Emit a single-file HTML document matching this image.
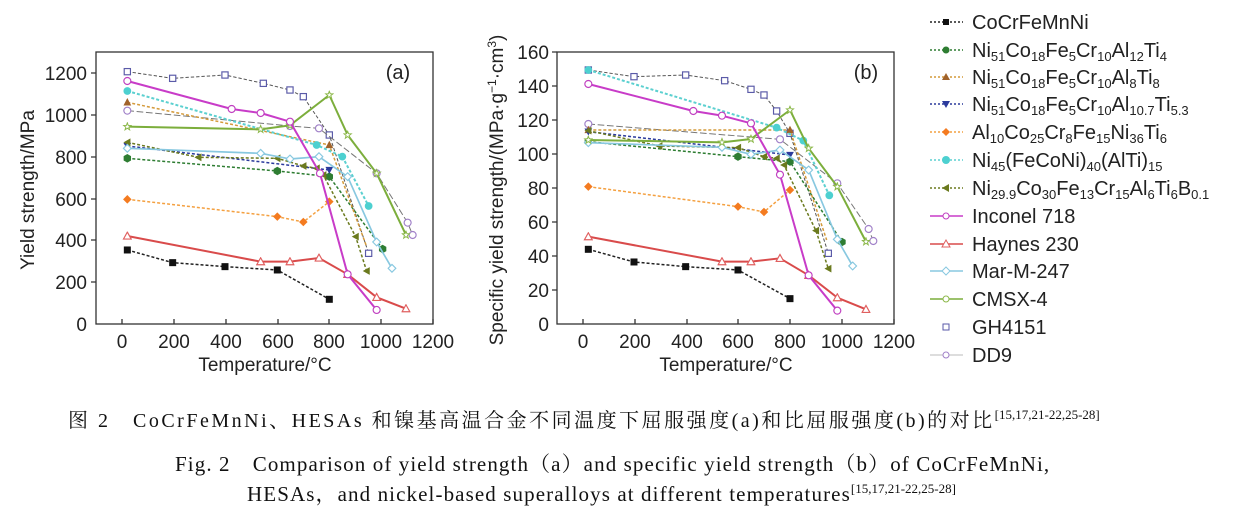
<!DOCTYPE html>
<html><head><meta charset="utf-8"><style>
body{margin:0;width:1236px;height:513px;background:#fff;overflow:hidden;position:relative}
svg{position:absolute;left:0;top:0}
.cap{position:absolute;font-family:"Liberation Serif","Noto Serif CJK SC",serif;font-size:21px;color:#111;white-space:nowrap;letter-spacing:1.1px}
.cap sup{font-size:13px;vertical-align:8px;letter-spacing:0}
</style></head><body>
<svg width="1236" height="513" viewBox="0 0 1236 513" font-family="Liberation Sans, sans-serif">
<defs>
<marker id="sqK" markerUnits="userSpaceOnUse" viewBox="-12 -12 24 24" markerWidth="28" markerHeight="28"><rect x="-9" y="-9" width="18" height="18" fill="#111"/></marker>
<marker id="hexG" markerUnits="userSpaceOnUse" viewBox="-12 -12 24 24" markerWidth="28" markerHeight="28"><polygon points="0,-11 9.5,-5.5 9.5,5.5 0,11 -9.5,5.5 -9.5,-5.5" fill="#2e7d32"/></marker>
<marker id="triBr" markerUnits="userSpaceOnUse" viewBox="-12 -12 24 24" markerWidth="28" markerHeight="28"><polygon points="0,-11 10,8 -10,8" fill="#a0622a"/></marker>
<marker id="triNv" markerUnits="userSpaceOnUse" viewBox="-12 -12 24 24" markerWidth="28" markerHeight="28"><polygon points="0,10 10,-8 -10,-8" fill="#2b3a9c"/></marker>
<marker id="diaO" markerUnits="userSpaceOnUse" viewBox="-12 -12 24 24" markerWidth="28" markerHeight="28"><polygon points="0,-11 11,0 0,11 -11,0" fill="#f47b20"/></marker>
<marker id="cirC" markerUnits="userSpaceOnUse" viewBox="-12 -12 24 24" markerWidth="28" markerHeight="28"><circle r="10" fill="#4dd0d0"/></marker>
<marker id="triOl" markerUnits="userSpaceOnUse" viewBox="-12 -12 24 24" markerWidth="28" markerHeight="28"><polygon points="-10,0 8,-10 8,10" fill="#6b7a1e"/></marker>
<marker id="cirM" markerUnits="userSpaceOnUse" viewBox="-12 -12 24 24" markerWidth="28" markerHeight="28"><circle r="9" fill="#fff" stroke="#c040c0" stroke-width="3"/></marker>
<marker id="triR" markerUnits="userSpaceOnUse" viewBox="-12 -12 24 24" markerWidth="28" markerHeight="28"><polygon points="0,-10 10,8 -10,8" fill="#fff" stroke="#e06060" stroke-width="3"/></marker>
<marker id="diaLB" markerUnits="userSpaceOnUse" viewBox="-12 -12 24 24" markerWidth="28" markerHeight="28"><polygon points="0,-10 10,0 0,10 -10,0" fill="#fff" stroke="#88c8e0" stroke-width="3"/></marker>
<marker id="starG" markerUnits="userSpaceOnUse" viewBox="-12 -12 24 24" markerWidth="28" markerHeight="28"><polygon points="0,-10 2.4,-3.3 9.5,-3.1 3.9,1.3 5.9,8.1 0,4 -5.9,8.1 -3.9,1.3 -9.5,-3.1 -2.4,-3.3" fill="#fff" stroke="#8cb84a" stroke-width="2.5"/></marker>
<marker id="sqP" markerUnits="userSpaceOnUse" viewBox="-12 -12 24 24" markerWidth="28" markerHeight="28"><rect x="-8" y="-8" width="16" height="16" fill="#fff" stroke="#5a5aa8" stroke-width="3"/></marker>
<marker id="cirL" markerUnits="userSpaceOnUse" viewBox="-12 -12 24 24" markerWidth="28" markerHeight="28"><circle r="9" fill="#fff" stroke="#a080c8" stroke-width="3"/></marker>
</defs>
<g fill="none" stroke-linejoin="round">
<g transform="translate(90,40) scale(0.3333)" stroke-width="4.5">
<polyline points="112,95 248,115 405,105 520,130 600,150 640,170 718,285 836,640" stroke="#555" stroke-dasharray="10 6" stroke-width="3" marker-start="url(#sqP)" marker-mid="url(#sqP)" marker-end="url(#sqP)"/>
<polyline points="112,212 600,258 687,265 860,400 953,548 968,585" stroke="#777" stroke-dasharray="20 8" stroke-width="3" marker-start="url(#cirL)" marker-mid="url(#cirL)" marker-end="url(#cirL)"/>
<polyline points="112,630 248,668 405,680 562,690 718,778" stroke="#222" stroke-dasharray="9 6" marker-start="url(#sqK)" marker-mid="url(#sqK)" marker-end="url(#sqK)"/>
<polyline points="112,355 562,393 718,410 878,627" stroke="#2e7d32" stroke-dasharray="9 6" marker-start="url(#hexG)" marker-mid="url(#hexG)" marker-end="url(#hexG)"/>
<polyline points="112,187 718,315 830,620" stroke="#d49a3a" stroke-dasharray="9 6" marker-start="url(#triBr)" marker-mid="url(#triBr)"/>
<polyline points="112,318 718,390" stroke="#2b3a9c" stroke-dasharray="9 6" marker-start="url(#triNv)" marker-end="url(#triNv)"/>
<polyline points="112,478 562,530 640,546 718,485" stroke="#f4a040" stroke-dasharray="9 6" marker-start="url(#diaO)" marker-mid="url(#diaO)" marker-end="url(#diaO)"/>
<polyline points="112,153 680,315 757,350 836,498" stroke="#5cd0d0" stroke-dasharray="9 6" stroke-width="6" marker-start="url(#cirC)" marker-mid="url(#cirC)" marker-end="url(#cirC)"/>
<polyline points="112,307 325,352 562,355 640,378 680,385 700,405 797,590 830,693" stroke="#6b7a1e" stroke-dasharray="9 6" marker-start="url(#triOl)" marker-mid="url(#triOl)" marker-end="url(#triOl)"/>
<polyline points="112,325 512,340 600,357 687,350 773,410 860,606 906,685" stroke="#88c8e0" stroke-width="5" marker-start="url(#diaLB)" marker-mid="url(#diaLB)" marker-end="url(#diaLB)"/>
<polyline points="112,260 512,268 600,256 718,165 773,285 860,400 948,585" stroke="#7cae3c" stroke-width="6" marker-start="url(#starG)" marker-mid="url(#starG)" marker-end="url(#starG)"/>
<polyline points="112,588 512,665 600,665 687,654 773,703 860,772 948,806" stroke="#d94b4b" stroke-width="6" marker-start="url(#triR)" marker-mid="url(#triR)" marker-end="url(#triR)"/>
<polyline points="112,123 425,207 512,219 600,245 690,400 773,703 860,810" stroke="#c83cc8" stroke-width="6" marker-start="url(#cirM)" marker-mid="url(#cirM)" marker-end="url(#cirM)"/>
</g>
<g transform="translate(560,40) scale(0.3333)" stroke-width="4.5">
<polyline points="85,90 222,110 377,105 494,122 573,148 612,165 650,213 690,280 805,640" stroke="#555" stroke-dasharray="10 6" stroke-width="3" marker-start="url(#sqP)" marker-mid="url(#sqP)" marker-end="url(#sqP)"/>
<polyline points="85,252 660,298 832,430 926,567 940,603" stroke="#777" stroke-dasharray="20 8" stroke-width="3" marker-start="url(#cirL)" marker-mid="url(#cirL)" marker-end="url(#cirL)"/>
<polyline points="85,628 222,666 377,680 534,690 690,776" stroke="#222" stroke-dasharray="9 6" marker-start="url(#sqK)" marker-mid="url(#sqK)" marker-end="url(#sqK)"/>
<polyline points="85,305 534,350 690,365 846,606" stroke="#2e7d32" stroke-dasharray="9 6" marker-start="url(#hexG)" marker-mid="url(#hexG)" marker-end="url(#hexG)"/>
<polyline points="85,270 690,270 800,600" stroke="#d49a3a" stroke-dasharray="9 6" marker-start="url(#triBr)" marker-mid="url(#triBr)"/>
<polyline points="85,275 690,345" stroke="#2b3a9c" stroke-dasharray="9 6" marker-start="url(#triNv)" marker-end="url(#triNv)"/>
<polyline points="85,440 534,500 612,516 690,450" stroke="#f4a040" stroke-dasharray="9 6" marker-start="url(#diaO)" marker-mid="url(#diaO)" marker-end="url(#diaO)"/>
<polyline points="85,90 650,263 730,302 808,466" stroke="#5cd0d0" stroke-dasharray="9 6" stroke-width="6" marker-start="url(#cirC)" marker-mid="url(#cirC)" marker-end="url(#cirC)"/>
<polyline points="85,272 298,318 534,323 612,350 650,355 672,375 768,572 805,686" stroke="#6b7a1e" stroke-dasharray="9 6" marker-start="url(#triOl)" marker-mid="url(#triOl)" marker-end="url(#triOl)"/>
<polyline points="85,308 486,322 573,343 660,330 746,390 832,598 878,678" stroke="#88c8e0" stroke-width="5" marker-start="url(#diaLB)" marker-mid="url(#diaLB)" marker-end="url(#diaLB)"/>
<polyline points="85,300 486,307 573,297 690,210 746,325 832,440 918,605" stroke="#7cae3c" stroke-width="6" marker-start="url(#starG)" marker-mid="url(#starG)" marker-end="url(#starG)"/>
<polyline points="85,590 486,665 573,665 660,655 746,706 832,773 918,808" stroke="#d94b4b" stroke-width="6" marker-start="url(#triR)" marker-mid="url(#triR)" marker-end="url(#triR)"/>
<polyline points="85,132 400,213 486,227 573,250 660,404 746,706 832,812" stroke="#c83cc8" stroke-width="6" marker-start="url(#cirM)" marker-mid="url(#cirM)" marker-end="url(#cirM)"/>
</g>
</g>
<g stroke="#333" stroke-width="1.3" fill="none">
<rect x="96" y="52" width="337" height="272"/>
<rect x="557" y="52" width="337" height="272"/>
<path d="M91 73H96M91 115H96M91 157H96M91 199H96M91 240H96M91 282H96M122 324V319M174 324V319M226 324V319M278 324V319M329 324V319M381 324V319M433 324V319"/>
<path d="M552 52H557M552 86H557M552 120H557M552 154H557M552 188H557M552 222H557M552 256H557M552 290H557M583 324V319M635 324V319M687 324V319M738 324V319M790 324V319M842 324V319M894 324V319"/>
</g>
<g font-size="19" fill="#222" text-anchor="end">
<text x="87" y="80">1200</text><text x="87" y="122">1000</text><text x="87" y="164">800</text><text x="87" y="206">600</text><text x="87" y="247">400</text><text x="87" y="289">200</text><text x="87" y="331">0</text>
<text x="549" y="59">160</text><text x="549" y="93">140</text><text x="549" y="127">120</text><text x="549" y="161">100</text><text x="549" y="195">80</text><text x="549" y="229">60</text><text x="549" y="263">40</text><text x="549" y="297">20</text><text x="549" y="331">0</text>
</g>
<g font-size="19" fill="#222" text-anchor="middle">
<text x="122" y="348">0</text><text x="174" y="348">200</text><text x="226" y="348">400</text><text x="278" y="348">600</text><text x="329" y="348">800</text><text x="381" y="348">1000</text><text x="433" y="348">1200</text>
<text x="583" y="348">0</text><text x="635" y="348">200</text><text x="687" y="348">400</text><text x="738" y="348">600</text><text x="790" y="348">800</text><text x="842" y="348">1000</text><text x="894" y="348">1200</text>
<text x="265" y="371">Temperature/°C</text><text x="726" y="371">Temperature/°C</text>
<text transform="translate(34,190) rotate(-90)">Yield strength/MPa</text>
<text transform="translate(503,190) rotate(-90)">Specific yield strength/(MPa·g<tspan font-size="12" dy="-7">−1</tspan><tspan dy="7">·cm</tspan><tspan font-size="12" dy="-7">3</tspan><tspan dy="7">)</tspan></text>
<text x="398" y="79" font-size="20">(a)</text><text x="866" y="79" font-size="20">(b)</text>
</g>
<g stroke-width="1.5" fill="none">
<line x1="930" y1="22" x2="963" y2="22" stroke="#222" stroke-dasharray="2 2"/>
<line x1="930" y1="50" x2="963" y2="50" stroke="#2e7d32" stroke-dasharray="2 2"/>
<line x1="930" y1="77" x2="963" y2="77" stroke="#d49a3a" stroke-dasharray="2 2"/>
<line x1="930" y1="104" x2="963" y2="104" stroke="#2b3a9c" stroke-dasharray="2 2"/>
<line x1="930" y1="132" x2="963" y2="132" stroke="#f4a040" stroke-dasharray="2 2"/>
<line x1="930" y1="160" x2="963" y2="160" stroke="#5cd0d0" stroke-dasharray="2 2"/>
<line x1="930" y1="188" x2="963" y2="188" stroke="#6b7a1e" stroke-dasharray="2 2"/>
<line x1="930" y1="216" x2="963" y2="216" stroke="#c83cc8"/>
<line x1="930" y1="244" x2="963" y2="244" stroke="#d94b4b"/>
<line x1="930" y1="271" x2="963" y2="271" stroke="#88c8e0"/>
<line x1="930" y1="299" x2="963" y2="299" stroke="#7cae3c"/>
<line x1="930" y1="355" x2="963" y2="355" stroke="#bbb" stroke-width="1"/>
</g>
<g>
<rect x="943" y="19" width="6" height="6" fill="#111"/>
<circle cx="946" cy="50" r="3.5" fill="#2e7d32"/>
<polygon points="946,73 950,80 942,80" fill="#a0622a"/>
<polygon points="946,108 950,101 942,101" fill="#2b3a9c"/>
<polygon points="946,128 950,132 946,136 942,132" fill="#f47b20"/>
<circle cx="946" cy="160" r="4" fill="#4dd0d0"/>
<polygon points="942,188 949,184 949,192" fill="#6b7a1e"/>
<circle cx="946" cy="216" r="3" fill="#fff" stroke="#c040c0"/>
<polygon points="946,240 950,247 942,247" fill="#fff" stroke="#e06060"/>
<polygon points="946,267 950,271 946,275 942,271" fill="#fff" stroke="#88c8e0"/>
<circle cx="946" cy="299" r="3" fill="#fff" stroke="#8cb84a"/>
<rect x="943" y="324" width="6" height="6" fill="#fff" stroke="#5a5aa8"/>
<circle cx="946" cy="355" r="3" fill="#fff" stroke="#a080c8"/>
</g>
<g font-size="20" fill="#222">
<text x="972" y="29">CoCrFeMnNi</text>
<text x="972" y="57">Ni<tspan font-size="13" dy="4">51</tspan><tspan dy="-4">Co</tspan><tspan font-size="13" dy="4">18</tspan><tspan dy="-4">Fe</tspan><tspan font-size="13" dy="4">5</tspan><tspan dy="-4">Cr</tspan><tspan font-size="13" dy="4">10</tspan><tspan dy="-4">Al</tspan><tspan font-size="13" dy="4">12</tspan><tspan dy="-4">Ti</tspan><tspan font-size="13" dy="4">4</tspan></text>
<text x="972" y="84">Ni<tspan font-size="13" dy="4">51</tspan><tspan dy="-4">Co</tspan><tspan font-size="13" dy="4">18</tspan><tspan dy="-4">Fe</tspan><tspan font-size="13" dy="4">5</tspan><tspan dy="-4">Cr</tspan><tspan font-size="13" dy="4">10</tspan><tspan dy="-4">Al</tspan><tspan font-size="13" dy="4">8</tspan><tspan dy="-4">Ti</tspan><tspan font-size="13" dy="4">8</tspan></text>
<text x="972" y="111">Ni<tspan font-size="13" dy="4">51</tspan><tspan dy="-4">Co</tspan><tspan font-size="13" dy="4">18</tspan><tspan dy="-4">Fe</tspan><tspan font-size="13" dy="4">5</tspan><tspan dy="-4">Cr</tspan><tspan font-size="13" dy="4">10</tspan><tspan dy="-4">Al</tspan><tspan font-size="13" dy="4">10.7</tspan><tspan dy="-4">Ti</tspan><tspan font-size="13" dy="4">5.3</tspan></text>
<text x="972" y="139">Al<tspan font-size="13" dy="4">10</tspan><tspan dy="-4">Co</tspan><tspan font-size="13" dy="4">25</tspan><tspan dy="-4">Cr</tspan><tspan font-size="13" dy="4">8</tspan><tspan dy="-4">Fe</tspan><tspan font-size="13" dy="4">15</tspan><tspan dy="-4">Ni</tspan><tspan font-size="13" dy="4">36</tspan><tspan dy="-4">Ti</tspan><tspan font-size="13" dy="4">6</tspan></text>
<text x="972" y="167">Ni<tspan font-size="13" dy="4">45</tspan><tspan dy="-4">(FeCoNi)</tspan><tspan font-size="13" dy="4">40</tspan><tspan dy="-4">(AlTi)</tspan><tspan font-size="13" dy="4">15</tspan></text>
<text x="972" y="195">Ni<tspan font-size="13" dy="4">29.9</tspan><tspan dy="-4">Co</tspan><tspan font-size="13" dy="4">30</tspan><tspan dy="-4">Fe</tspan><tspan font-size="13" dy="4">13</tspan><tspan dy="-4">Cr</tspan><tspan font-size="13" dy="4">15</tspan><tspan dy="-4">Al</tspan><tspan font-size="13" dy="4">6</tspan><tspan dy="-4">Ti</tspan><tspan font-size="13" dy="4">6</tspan><tspan dy="-4">B</tspan><tspan font-size="13" dy="4">0.1</tspan></text>
<text x="972" y="223">Inconel 718</text>
<text x="972" y="251">Haynes 230</text>
<text x="972" y="278">Mar-M-247</text>
<text x="972" y="306">CMSX-4</text>
<text x="972" y="334">GH4151</text>
<text x="972" y="362">DD9</text>
</g>
</svg>
<div class="cap" style="left:68px;top:404px;font-size:20px;letter-spacing:2.5px">图 2　CoCrFeMnNi、HESAs 和镍基高温合金不同温度下屈服强度(a)和比屈服强度(b)的对比<sup>[15,17,21-22,25-28]</sup></div>
<div class="cap" style="left:175px;top:448px">Fig. 2　Comparison of yield strength（a）and specific yield strength（b）of CoCrFeMnNi,</div>
<div class="cap" style="left:247px;top:478px">HESAs，and nickel-based superalloys at different temperatures<sup>[15,17,21-22,25-28]</sup></div>
</body></html>
